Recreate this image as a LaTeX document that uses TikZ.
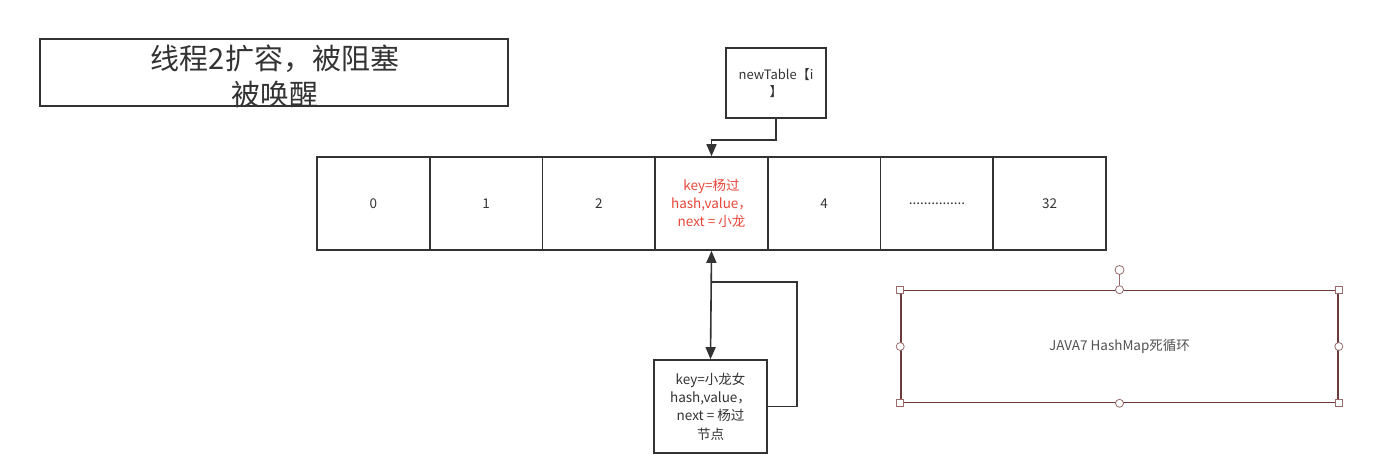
\documentclass[tikz,border=0pt]{standalone}
\usepackage{fontspec}
\setmainfont{Noto Sans CJK SC}
\usetikzlibrary{arrows.meta}
\definecolor{txt}{HTML}{333333}
\definecolor{ln}{HTML}{333333}
\definecolor{redt}{HTML}{E8473A}
\definecolor{sel}{HTML}{6B3A3A}
\definecolor{hdl}{HTML}{9A6A6A}
\tikzset{
  box/.style={draw=ln,line width=1.6pt,fill=white,inner sep=0pt,text=txt,align=center},
  cell/.style={box,fill=none,minimum width=112.7pt,minimum height=93pt,font=\fontsize{13.5}{18}\selectfont},
  conn/.style={draw=ln,line width=1.6pt},
  tip/.style={-{Triangle[length=12pt,width=10pt]}},
  hsq/.style={draw=hdl,fill=white,line width=0.8pt,minimum size=7pt,inner sep=0pt,rectangle},
  hci/.style={draw=hdl,fill=white,line width=0.8pt,minimum size=8pt,inner sep=0pt,circle},
}
\begin{document}
\begin{tikzpicture}[x=1pt,y=-1pt]
\useasboundingbox (0,0) rectangle (1395,465);
% title
\node[box,minimum width=468pt,minimum height=67pt] (title) at (274,72.5) {};
\node[text=txt,align=center,font=\fontsize{29}{36}\selectfont,inner sep=0pt] (titlet) at (275,76) {线程2扩容，被阻塞\\被唤醒};
% newTable
\node[box,minimum width=100pt,minimum height=70pt,font=\fontsize{13}{17}\selectfont] (nt) at (776,83) {newTable【i\\】};
% table
\node[cell] (c0) at (373.4,203.5) {0};
\node[cell] (c1) at (486.1,203.5) {1};
\node[cell] (c2) at (598.8,203.5) {2};
\node[cell,text=redt] (c3) at (711.5,203.5) {key=杨过\\hash,value，\\next = 小龙};
\node[cell] (c4) at (824.2,203.5) {4};
\node[cell] (c5) at (936.9,203.5) {...............};
\node[cell] (c6) at (1049.6,203.5) {32};
% lower node
\node[box,minimum width=113pt,minimum height=93pt,font=\fontsize{13.5}{18.3}\selectfont] (nb) at (710.5,406.5) {key=小龙女\\hash,value，\\next = 杨过\\节点};
% connectors
\draw[conn,tip] (nt.south) -- ++(0,21) -| (c3.north);
\draw[conn,{Triangle[length=12pt,width=10pt]}-{Triangle[length=12pt,width=10pt]}] (c3.south) -- (nb.north);
\coordinate (lp) at (710.5,282);
\draw[conn] (lp) -- (797,282) |- (nb.east);
% selected box
\node[draw=sel,line width=1.6pt,minimum width=437pt,minimum height=112pt,inner sep=0pt,text=txt!85,font=\fontsize{13.5}{16}\selectfont] (jv) at (1119.5,346.5) {JAVA7 HashMap死循环};
\node[hci,minimum size=9pt] (rot) at (1119.5,270) {};
\draw[draw=hdl,line width=0.8pt] (rot.south) -- (jv.north);
\node[hsq] (h1) at (jv.north west) {};
\node[hsq] (h2) at (jv.north east) {};
\node[hsq] (h3) at (jv.south west) {};
\node[hsq] (h4) at (jv.south east) {};
\node[hci] (h5) at (jv.north) {};
\node[hci] (h6) at (jv.south) {};
\node[hci] (h7) at (jv.west) {};
\node[hci] (h8) at (jv.east) {};
\end{tikzpicture}
\end{document}
